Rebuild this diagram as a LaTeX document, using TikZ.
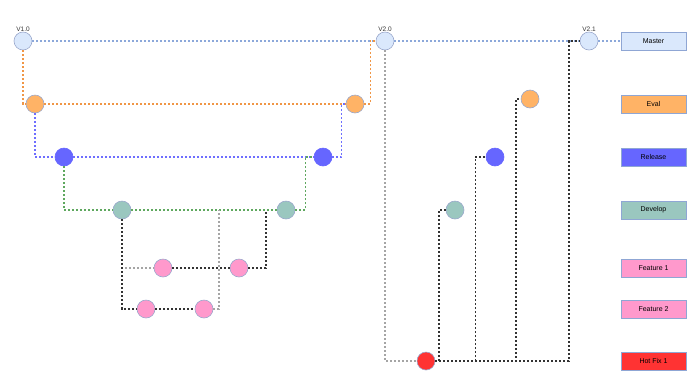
\documentclass[tikz,border=0pt]{standalone}
\usepackage{fontspec}
\setmainfont{Liberation Sans}
\definecolor{cstroke}{RGB}{154,168,204}
\definecolor{bstroke}{RGB}{143,166,212}
\definecolor{tagtxt}{RGB}{51,51,51}
\definecolor{cmaster}{RGB}{218,232,252}
\definecolor{ceval}{RGB}{255,179,102}
\definecolor{crel}{RGB}{102,102,255}
\definecolor{cdev}{RGB}{154,199,191}
\definecolor{cfeat}{RGB}{255,153,204}
\definecolor{chot}{RGB}{255,51,51}
\definecolor{lmaster}{RGB}{140,168,218}
\definecolor{leval}{RGB}{240,150,70}
\definecolor{lrel}{RGB}{110,110,255}
\definecolor{ldev}{RGB}{95,168,95}
\definecolor{lblack}{RGB}{51,51,51}
\definecolor{lgray}{RGB}{165,165,165}
\begin{document}
\begin{tikzpicture}[x=1pt,y=-1pt,
  commit/.style={circle,minimum size=18pt,inner sep=0pt,draw=cstroke,line width=0.6pt},
  lab/.style={draw=bstroke,line width=0.6pt,minimum width=65pt,minimum height=18pt,inner sep=0pt,font=\fontsize{7}{8}\selectfont},
  tag/.style={font=\fontsize{6.5}{7}\selectfont\color{tagtxt},inner sep=0pt},
  ln/.style={line width=1.1pt,dash pattern=on 2pt off 2pt,draw=#1},
]
\useasboundingbox (0,0) rectangle (700,384);

% commits
\node[commit,fill=cmaster] (v10) at (23,41) {};
\node[commit,fill=cmaster] (v20) at (385,41) {};
\node[commit,fill=cmaster] (v21) at (589,41) {};
\node[commit,fill=ceval] (e1) at (35,104) {};
\node[commit,fill=ceval] (e2) at (355,104) {};
\node[commit,fill=ceval] (e3) at (530,99) {};
\node[commit,fill=crel,draw=crel] (r1) at (64,157) {};
\node[commit,fill=crel,draw=crel] (r2) at (323,157) {};
\node[commit,fill=crel,draw=crel] (r3) at (495,157) {};
\node[commit,fill=cdev] (d1) at (122,210) {};
\node[commit,fill=cdev] (d2) at (286,210) {};
\node[commit,fill=cdev] (d3) at (455,210) {};
\node[commit,fill=cfeat] (f1a) at (163,268) {};
\node[commit,fill=cfeat] (f1b) at (239,268) {};
\node[commit,fill=cfeat] (f2a) at (146,309) {};
\node[commit,fill=cfeat] (f2b) at (204,309) {};
\node[commit,fill=chot] (h1) at (426,361) {};

% tags
\node[tag,anchor=south] (t10) at (23,31.5) {V1.0};
\node[tag,anchor=south] (t20) at (385,31.5) {V2.0};
\node[tag,anchor=south] (t21) at (589,31.5) {V2.1};

% legend boxes
\node[lab,fill=cmaster] (bm) at (653.5,41) {Master};
\node[lab,fill=ceval] (be) at (653.5,104) {Eval};
\node[lab,fill=crel] (br) at (653.5,157) {Release};
\node[lab,fill=cdev] (bd) at (653.5,210) {Develop};
\node[lab,fill=cfeat] (bf1) at (653.5,268) {Feature 1};
\node[lab,fill=cfeat] (bf2) at (653.5,309) {Feature 2};
\node[lab,fill=chot] (bh) at (653.5,361) {Hot Fix 1};

% merge points on lines
\coordinate (mf1) at (266,210);
\coordinate (mf2) at (219,210);

% master line
\draw[ln=lmaster] (v10) -- (v20);
\draw[ln=lmaster] (v20) -- (v21);
\draw[ln=lmaster] (v21) -- (bm);
% eval
\draw[ln=leval] (v10.south) |- (e1.west);
\draw[ln=leval] (e1) -- (e2);
\draw[ln=leval] (e2.east) -- ++(6,0) |- (v20.west);
% release
\draw[ln=lrel] (e1.south) |- (r1.west);
\draw[ln=lrel] (r1) -- (r2);
\draw[ln=lrel] (r2.east) -- ++(9.5,0) |- (e2.west);
% develop
\draw[ln=ldev] (r1.south) |- (d1.west);
\draw[ln=ldev] (d1) -- (d2);
\draw[ln=ldev] (d2.east) -- ++(10,0) |- (r2.west);
% features
\draw[ln=lgray] (d1.south) |- (f1a.west);
\draw[ln=lblack] (d1.south) |- (f2a.west);
\draw[ln=lblack] (f1a) -- (f1b);
\draw[ln=lblack] (f1b.east) -| (mf1);
\draw[ln=lblack] (f2a) -- (f2b);
\draw[ln=lgray] (f2b.east) -| (mf2);
% hot fix
\draw[ln=lgray] (v20.south) |- (h1.west);
\draw[ln=lblack] (h1.east) -- (439,361) |- (d3.west);
\draw[ln=lblack] (h1.east) -- (475.5,361) |- (r3.west);
\draw[ln=lblack] (h1.east) -- (516,361) |- (e3.west);
\draw[ln=lblack] (h1.east) -- (569,361) |- (v21.west);
\end{tikzpicture}
\end{document}
